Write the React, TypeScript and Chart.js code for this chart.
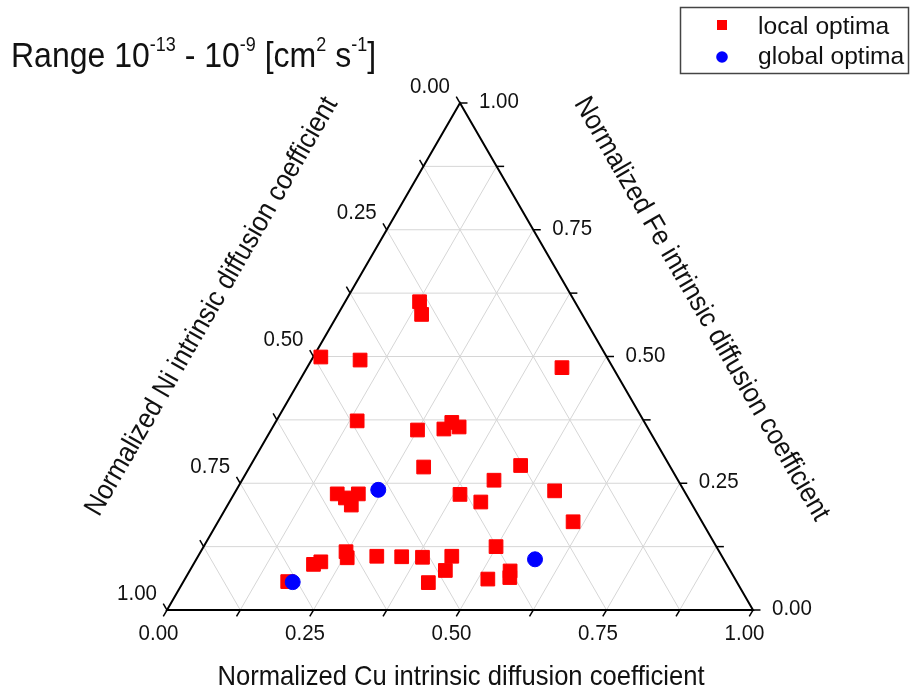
import React, { useEffect, useRef } from "react";
import { Chart, registerables } from "chart.js";

Chart.register(...registerables);

// ---- data (ternary fractions; Ni = 1 - Cu - Fe) ----
const localCu = [0.127, 0.143, 0.013, 0.083, 0.435, 0.138, 0.25, 0.294, 0.301, 0.318, 0.297, 0.461, 0.43, 0.544, 0.176, 0.194, 0.211, 0.212, 0.386, 0.429, 0.606, 0.499, 0.248, 0.256, 0.305, 0.348, 0.384, 0.433, 0.436, 0.547, 0.553, 0.517, 0.419, 0.215, 0.205, 0.178];
const localFe = [0.608, 0.583, 0.499, 0.493, 0.478, 0.373, 0.355, 0.357, 0.37, 0.361, 0.282, 0.285, 0.256, 0.235, 0.229, 0.221, 0.207, 0.229, 0.228, 0.213, 0.174, 0.125, 0.115, 0.103, 0.106, 0.105, 0.104, 0.106, 0.078, 0.077, 0.064, 0.061, 0.054, 0.095, 0.09, 0.056];
const globalCu = [0.242, 0.187, 0.578];
const globalFe = [0.237, 0.055, 0.1];

const majorTicks = [0, 0.25, 0.5, 0.75, 1];
const tickLabels = ["0.00", "0.25", "0.50", "0.75", "1.00"];
const minorTicks = [0, 0.125, 0.25, 0.375, 0.5, 0.625, 0.75, 0.875, 1];
const gridSteps = [0.125, 0.25, 0.375, 0.5, 0.625, 0.75, 0.875];

const seriesNames = ["local optima", "global optima"];
const titleParts: [string, boolean][] = [
  ["Range 10", false],
  ["-13", true],
  [" - 10", false],
  ["-9", true],
  [" [cm", false],
  ["2", true],
  [" s", false],
  ["-1", true],
  ["]", false],
];
const cuTitle = "Normalized Cu intrinsic diffusion coefficient";
const niTitle = "Normalized Ni intrinsic diffusion coefficient";
const feTitle = "Normalized Fe intrinsic diffusion coefficient";

const H = Math.sqrt(3) / 2;
const FONT = '"Liberation Sans", Arial, sans-serif';

const toXY = (cu: number[], fe: number[]) =>
  cu.map((c, i) => ({ x: c + fe[i] / 2, y: fe[i] * H }));

function txt(
  ctx: CanvasRenderingContext2D,
  s: string,
  x: number,
  y: number,
  size: number,
  align: CanvasTextAlign,
  baseline: CanvasTextBaseline,
  rot = 0,
  sy = 1
) {
  ctx.save();
  ctx.translate(x, y);
  if (rot) ctx.rotate(rot);
  ctx.scale(1, sy);
  ctx.font = `${size}px ${FONT}`;
  ctx.textAlign = align;
  ctx.textBaseline = baseline;
  ctx.fillStyle = "#111";
  ctx.fillText(s, 0, 0);
  ctx.restore();
}

const ternaryPlugin = {
  id: "ternary",
  beforeDatasetsDraw(chart: any) {
    const ctx: CanvasRenderingContext2D = chart.ctx;
    const xs = chart.scales.x;
    const ys = chart.scales.y;
    const P = (cu: number, fe: number) => [
      xs.getPixelForValue(cu + fe / 2),
      ys.getPixelForValue(fe * H),
    ];
    const line = (a: number[], b: number[]) => {
      ctx.beginPath();
      ctx.moveTo(a[0], a[1]);
      ctx.lineTo(b[0], b[1]);
      ctx.stroke();
    };
    ctx.save();
    // grid
    ctx.strokeStyle = "#d6d6d6";
    ctx.lineWidth = 1;
    for (const v of gridSteps) {
      line(P(0, v), P(1 - v, v)); // Fe constant
      line(P(v, 0), P(v, 1 - v)); // Cu constant
      line(P(1 - v, 0), P(0, 1 - v)); // Ni constant
    }
    // axes
    ctx.strokeStyle = "#000";
    ctx.lineWidth = 2;
    ctx.beginPath();
    const a = P(0, 0), b = P(1, 0), c = P(0, 1);
    ctx.moveTo(a[0], a[1]);
    ctx.lineTo(b[0], b[1]);
    ctx.lineTo(c[0], c[1]);
    ctx.closePath();
    ctx.stroke();
    // ticks
    const L = 7.5;
    ctx.lineWidth = 1.5;
    for (const v of minorTicks) {
      const pb = P(v, 0);
      line(pb, [pb[0] - 0.5 * L, pb[1] + H * L]);
      const pr = P(1 - v, v);
      line(pr, [pr[0] + L, pr[1]]);
      const pl = P(0, 1 - v);
      line(pl, [pl[0] - 0.5 * L, pl[1] - H * L]);
    }
    ctx.restore();
  },
  afterDraw(chart: any) {
    const ctx: CanvasRenderingContext2D = chart.ctx;
    const xs = chart.scales.x;
    const ys = chart.scales.y;
    const P = (cu: number, fe: number) => [
      xs.getPixelForValue(cu + fe / 2),
      ys.getPixelForValue(fe * H),
    ];
    // tick labels
    majorTicks.forEach((v, i) => {
      const pb = P(v, 0);
      txt(ctx, tickLabels[i], pb[0] - 8.5, pb[1] + 24, 20.5, "center", "middle", 0, 1.08);
      const pr = P(1 - v, v);
      txt(ctx, tickLabels[i], pr[0] + 19, pr[1] - 1, 20.5, "left", "middle", 0, 1.08);
      const pl = P(0, 1 - v);
      txt(ctx, tickLabels[i], pl[0] - 10, pl[1] - 16.5, 20.5, "right", "middle", 0, 1.08);
    });
    // axis titles
    const bl = P(0, 0), br = P(1, 0), top = P(0, 1);
    txt(ctx, cuTitle, (bl[0] + br[0]) / 2 + 1, bl[1] + 75, 25.6, "center", "alphabetic", 0, 1.09);
    const side = Math.hypot(top[0] - bl[0], top[1] - bl[1]);
    const dl = [(top[0] - bl[0]) / side, (top[1] - bl[1]) / side];
    const nl = [dl[1], -dl[0]];
    const lc = [bl[0] + dl[0] * side * 0.487 + nl[0] * 113, bl[1] + dl[1] * side * 0.487 + nl[1] * 113];
    txt(ctx, niTitle, lc[0], lc[1], 25.6, "center", "middle", -Math.PI / 3, 1.09);
    const dr = [(br[0] - top[0]) / side, (br[1] - top[1]) / side];
    const nr = [-dr[1], dr[0]];
    const rc = [top[0] + dr[0] * side * 0.511 - nr[0] * 106, top[1] + dr[1] * side * 0.511 - nr[1] * 106];
    txt(ctx, feTitle, rc[0], rc[1], 25.6, "center", "middle", Math.PI / 3, 1.09);

    // title with superscripts
    ctx.save();
    let x = 11;
    for (const [s, sup] of titleParts) {
      const size = sup ? 18 : 32;
      ctx.font = `${size}px ${FONT}`;
      const w = ctx.measureText(s).width;
      txt(ctx, s, x, sup ? 51 : 66.7, size, "left", "alphabetic", 0, 1.12);
      x += w;
    }
    ctx.restore();

    // legend
    ctx.save();
    ctx.strokeStyle = "#444";
    ctx.lineWidth = 1.5;
    ctx.strokeRect(680.5, 7.5, 228, 66);
    ctx.fillStyle = "#ff0000";
    ctx.fillRect(717, 20, 10, 10);
    ctx.fillStyle = "#0000ff";
    ctx.beginPath();
    ctx.arc(722, 57, 5.8, 0, Math.PI * 2);
    ctx.fill();
    ctx.restore();
    txt(ctx, seriesNames[0], 758, 33.5, 24.6, "left", "alphabetic");
    txt(ctx, seriesNames[1], 758, 63.5, 24.6, "left", "alphabetic");
  },
};

export default function App() {
  const ref = useRef<HTMLCanvasElement>(null);
  useEffect(() => {
    if (!ref.current) return;
    const chart = new Chart(ref.current, {
      type: "scatter",
      data: {
        datasets: [
          {
            label: seriesNames[0],
            data: toXY(localCu, localFe),
            pointStyle: "rect",
            pointRadius: 9.7,
            backgroundColor: "#ff0000",
            borderColor: "#ff0000",
            borderWidth: 1,
            order: 1,
          },
          {
            label: seriesNames[1],
            data: toXY(globalCu, globalFe),
            pointStyle: "circle",
            pointRadius: 7.5,
            backgroundColor: "#0000ff",
            borderColor: "#0000ff",
            borderWidth: 1,
            order: 0,
          },
        ],
      },
      options: {
        responsive: false,
        animation: false,
        devicePixelRatio: 1,
        layout: { padding: { left: 167, right: 159, top: 103, bottom: 79 } },
        scales: {
          x: { type: "linear", min: 0, max: 1, display: false },
          y: { type: "linear", min: 0, max: H, display: false },
        },
        plugins: {
          legend: { display: false },
          title: { display: false },
          tooltip: { enabled: false },
        },
      },
      plugins: [ternaryPlugin],
    });
    return () => chart.destroy();
  }, []);
  return (
    <div style={{ position: "fixed", left: 0, top: 0, width: 912, height: 689, background: "#fff" }}>
      <canvas ref={ref} width={912} height={689} />
    </div>
  );
}
